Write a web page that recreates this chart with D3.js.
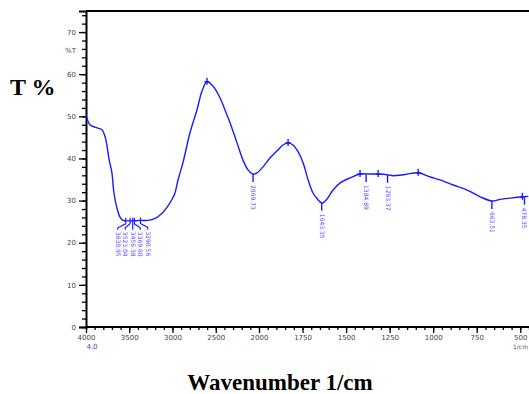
<!DOCTYPE html>
<html>
<head>
<meta charset="utf-8">
<script src="https://cdn.jsdelivr.net/npm/d3@7"></script>
<style>
  html, body { margin: 0; padding: 0; background: #fff; }
  svg { display: block; }
</style>
</head>
<body>
<svg id="chart" width="529" height="394"></svg>
<script>
// ---- data ----
const wavenumbers = [4000, 3954, 3880, 3815, 3780, 3757, 3735, 3700, 3677, 3642, 3607, 3572, 3540, 3480, 3430, 3376, 3283, 3200, 3120, 3064, 3000, 2971, 2936, 2879, 2798, 2717, 2659, 2601, 2532, 2451, 2393, 2335, 2254, 2185, 2127, 2069, 2023, 1977, 1937, 1897, 1862, 1833, 1805, 1776, 1747, 1718, 1690, 1661, 1638, 1609, 1575, 1534, 1477, 1420, 1362, 1316, 1259, 1230, 1161, 1086, 1017, 960, 885, 805, 730, 661, 615, 557, 488, 454];
const transmittance = [50.4, 48.0, 47.3, 46.8, 45.2, 43.0, 40.0, 36.5, 31.8, 28.2, 26.1, 25.3, 25.2, 25.2, 25.2, 25.3, 25.3, 25.8, 27.0, 28.4, 30.5, 31.8, 34.9, 39.0, 46.1, 51.5, 56.0, 58.2, 57.2, 54.4, 51.5, 48.5, 43.7, 39.6, 37.3, 36.3, 36.6, 38.0, 40.1, 41.8, 43.2, 43.7, 43.2, 41.6, 39.0, 34.9, 31.8, 30.2, 29.4, 30.4, 32.5, 34.2, 35.4, 36.3, 36.3, 36.3, 36.1, 35.9, 36.2, 36.6, 35.6, 34.9, 33.7, 32.5, 30.9, 29.9, 30.3, 30.6, 30.9, 31.0];

const xTickValues = [4000, 3500, 3000, 2500, 2000, 1750, 1500, 1250, 1000, 750, 500];
const yTickValues = [0, 10, 20, 30, 40, 50, 60, 70];

// peak markers (maxima)
const peakMarks = [2601, 1833, 1420, 1316, 1086, 488];
// cluster of labelled minima around 3500
const clusterMarks = [3540, 3490, 3460, 3440, 3370];
const clusterLabels = ["3630.95", "3523.04", "3456.38", "3369.60", "3290.56"];
// single labelled bands
const bandMarks = [2069, 1640, 1385, 1262, 663, 476];
const bandLabels = ["2069.73", "1643.35", "1384.89", "1263.37", "663.51", "478.35"];

// ---- scales ----
const svg = d3.select("#chart");
const x = d3.scaleLinear().domain([4000, 2000, 450]).range([86, 259, 529]);
const y = d3.scaleLinear().domain([0, 75]).range([327, 11]);
const valueAt = d3.scaleLinear().domain(wavenumbers).range(transmittance);

const blue = "#1a1aff";
const labelBlue = "#5a3cff";

// ---- frame top line ----
svg.append("line")
  .attr("x1", x(4000)).attr("x2", 529)
  .attr("y1", y(75)).attr("y2", y(75))
  .attr("stroke", "#000").attr("stroke-width", 2);

// ---- axes ----
const xMinor = d3.range(4000, 2000, -100).concat(d3.range(2000, 449, -50));
const yMinor = d3.range(0, 75, 2);

const gxMinor = svg.append("g").attr("transform", `translate(0,${y(0)})`)
  .call(d3.axisBottom(x).tickValues(xMinor).tickSize(3).tickFormat(""));
const gx = svg.append("g").attr("transform", `translate(0,${y(0)})`)
  .call(d3.axisBottom(x).tickValues(xTickValues).tickSize(6).tickPadding(2).tickFormat(d3.format("d")));
gx.select(".domain").attr("stroke-width", 2).attr("d", `M${x(4000)},0H529`);
gxMinor.select(".domain").remove();

const gyMinor = svg.append("g").attr("transform", `translate(${x(4000)},0)`)
  .call(d3.axisLeft(y).tickValues(yMinor).tickSize(4).tickFormat(""));
const gy = svg.append("g").attr("transform", `translate(${x(4000)},0)`)
  .call(d3.axisLeft(y).tickValues(yTickValues).tickSize(7).tickPadding(3).tickFormat(d3.format("d")));
gy.select(".domain").attr("stroke-width", 2);
gyMinor.select(".domain").remove();

svg.selectAll(".tick line").attr("stroke-width", 1.3);
svg.selectAll(".tick text")
  .attr("font-family", "DejaVu Sans, sans-serif")
  .attr("font-size", 7)
  .attr("fill", "#444");

// %T label among y ticks
svg.append("text")
  .attr("x", x(4000) - 10).attr("y", y(65.5)).attr("dy", "0.32em")
  .attr("text-anchor", "end")
  .attr("font-family", "DejaVu Sans, sans-serif").attr("font-size", 7).attr("fill", "#444")
  .text("%T");

// small notes under axis ends
svg.append("text")
  .attr("x", x(4000) + 6).attr("y", 349)
  .attr("text-anchor", "middle")
  .attr("font-family", "DejaVu Sans, sans-serif").attr("font-size", 7).attr("fill", "#3344ff")
  .text("4.0");
svg.append("text")
  .attr("x", 528).attr("y", 349)
  .attr("text-anchor", "end")
  .attr("font-family", "DejaVu Sans, sans-serif").attr("font-size", 6).attr("fill", "#555")
  .text("1/cm");

// ---- spectrum ----
const line = d3.line().x(d => x(d[0])).y(d => y(d[1])).curve(d3.curveCatmullRom.alpha(0.5));
svg.append("path")
  .datum(wavenumbers.map((w, i) => [w, transmittance[i]]))
  .attr("d", line)
  .attr("fill", "none")
  .attr("stroke", blue)
  .attr("stroke-width", 1.4);

// ---- peak markers ----
svg.selectAll(".peak").data(peakMarks).enter().append("line")
  .attr("x1", d => x(d)).attr("x2", d => x(d))
  .attr("y1", d => y(valueAt(d)) - 4).attr("y2", d => y(valueAt(d)) + 3)
  .attr("stroke", blue).attr("stroke-width", 1.4);
svg.selectAll(".peakh").data(peakMarks).enter().append("line")
  .attr("x1", d => x(d) - 2.5).attr("x2", d => x(d) + 2.5)
  .attr("y1", d => y(valueAt(d))).attr("y2", d => y(valueAt(d)))
  .attr("stroke", blue).attr("stroke-width", 1.6);

// ---- single band labels ----
bandMarks.forEach((w, i) => {
  const px = x(w), py = y(valueAt(w));
  svg.append("line")
    .attr("x1", px).attr("x2", px).attr("y1", py).attr("y2", py + 8)
    .attr("stroke", blue).attr("stroke-width", 1.4);
  svg.append("text")
    .attr("transform", `translate(${px - 2},${py + 11}) rotate(90)`)
    .attr("text-anchor", "start")
    .attr("font-family", "DejaVu Sans, sans-serif").attr("font-size", 6)
    .attr("fill", labelBlue)
    .text(bandLabels[i]);
});

// ---- clustered labels (3500 region) ----
const clusterCenter = d3.mean(clusterMarks, w => x(w));
const spread = 7.5;
clusterMarks.forEach((w, i) => {
  const px = x(w), py = y(valueAt(w));
  const lx = clusterCenter + (i - (clusterMarks.length - 1) / 2) * spread;
  svg.append("path")
    .attr("d", `M${px},${py - 3}V${py + 3}L${lx},${py + 7}V${py + 9}`)
    .attr("fill", "none").attr("stroke", blue).attr("stroke-width", 1.2);
  svg.append("text")
    .attr("transform", `translate(${lx - 2},${py + 11}) rotate(90)`)
    .attr("text-anchor", "start")
    .attr("font-family", "DejaVu Sans, sans-serif").attr("font-size", 6)
    .attr("fill", labelBlue)
    .text(clusterLabels[i]);
});

// ---- axis titles ----
svg.append("text")
  .attr("x", 10).attr("y", 95)
  .attr("font-family", "Liberation Serif, Times New Roman, serif")
  .attr("font-weight", "bold").attr("font-size", 24)
  .text("T %");
svg.append("text")
  .attr("x", 280).attr("y", 390)
  .attr("text-anchor", "middle")
  .attr("font-family", "Liberation Serif, Times New Roman, serif")
  .attr("font-weight", "bold").attr("font-size", 23)
  .text("Wavenumber 1/cm");
</script>
</body>
</html>
